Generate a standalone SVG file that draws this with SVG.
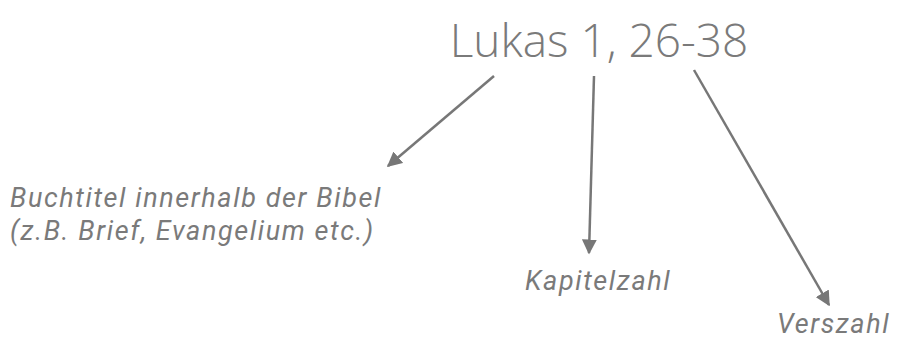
<svg xmlns="http://www.w3.org/2000/svg" width="898" height="341" viewBox="0 0 898 341">
<style>
.title{font-family:"Open Sans","Noto Sans",sans-serif;font-weight:300;font-size:46px;fill:#7a7a7a}
.lbl{font-family:Roboto,"Liberation Sans",sans-serif;font-style:italic;font-size:27px;fill:#7a7a7a;letter-spacing:1.6px}
.con{stroke:#777;stroke-width:2.5;fill:none;marker-end:url(#ah)}
</style>
<defs>
<marker id="ah" viewBox="0 0 10 10" refX="9" refY="5" markerWidth="6" markerHeight="6" orient="auto" markerUnits="strokeWidth">
<path d="M0,0 L10,5 L0,10 z" fill="#777"/>
</marker>
</defs>
<rect width="898" height="341" fill="#fff"/>
<g id="title"><text class="title" x="599" y="57" text-anchor="middle">Lukas 1, 26-38</text></g>
<g id="connectors">
<line class="con" x1="494" y1="76" x2="388" y2="166"/>
<line class="con" x1="594" y1="76" x2="589" y2="253"/>
<line class="con" x1="694" y1="70" x2="829" y2="305"/>
</g>
<g id="buch"><text class="lbl" x="10" y="207">Buchtitel innerhalb der Bibel</text><text class="lbl" x="10" y="240">(z.B. Brief, Evangelium etc.)</text></g>
<g id="kapitel"><text class="lbl" x="525" y="290">Kapitelzahl</text></g>
<g id="vers"><text class="lbl" x="777" y="333">Verszahl</text></g>
</svg>
